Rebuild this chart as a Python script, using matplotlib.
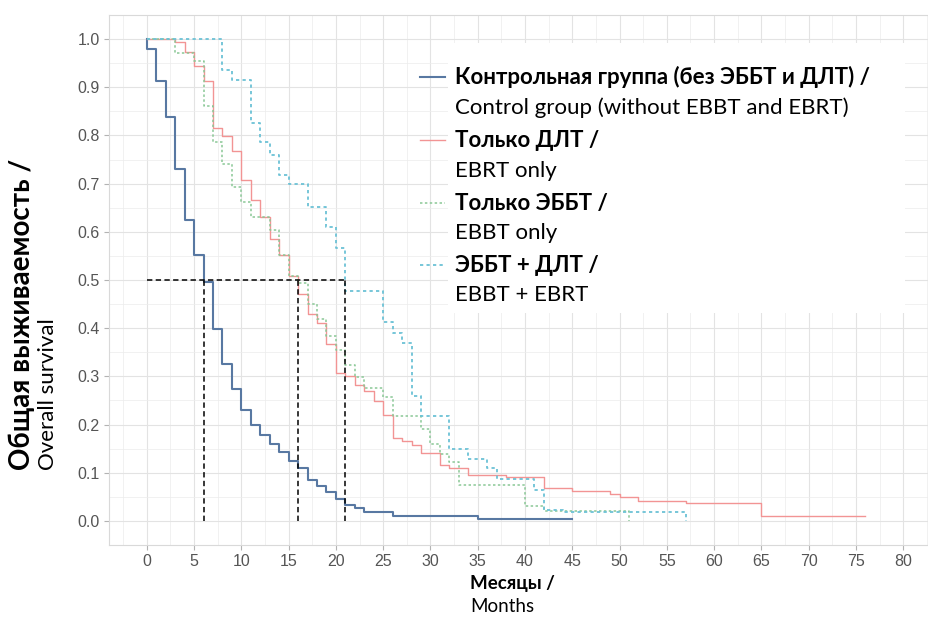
import matplotlib
matplotlib.use("Agg")
import matplotlib.pyplot as plt
from matplotlib.patches import Rectangle
from matplotlib.ticker import MultipleLocator

# Kaplan-Meier estimates: event times (months) and survival after each step
control_t = [0, 0, 1, 2, 3, 4, 5, 6, 7, 8, 9, 10, 11, 12, 13, 14, 15, 16, 17, 18,
             19, 20, 21, 22, 23, 26, 35, 45]
control_s = [1.0, 0.98, 0.912, 0.839, 0.730, 0.624, 0.551, 0.496, 0.398, 0.326, 0.274,
             0.230, 0.200, 0.178, 0.160, 0.142, 0.124, 0.110, 0.084, 0.073, 0.061,
             0.045, 0.033, 0.026, 0.018, 0.011, 0.004, 0.004]

ebrt_t = [0, 3, 4, 5, 6, 7, 8, 9, 10, 11, 12, 13, 14, 15, 16, 17, 18, 19, 20, 21,
          22, 23, 24, 25, 26, 27, 28, 29, 31, 32, 34, 38, 42, 45, 49, 50, 52, 57, 65, 76]
ebrt_s = [1.0, 0.993, 0.974, 0.944, 0.913, 0.816, 0.798, 0.768, 0.707, 0.667, 0.630,
          0.585, 0.552, 0.509, 0.470, 0.430, 0.410, 0.368, 0.307, 0.300, 0.282, 0.269,
          0.249, 0.219, 0.172, 0.165, 0.158, 0.141, 0.117, 0.109, 0.096, 0.091, 0.068,
          0.062, 0.056, 0.049, 0.042, 0.037, 0.011, 0.011]

ebbt_t = [0, 3, 5, 6, 7, 8, 9, 10, 11, 13, 14, 15, 16, 17, 18, 19, 20, 21, 22, 23,
          25, 26, 29, 30, 31, 32, 33, 40, 42, 51]
ebbt_s = [1.0, 0.972, 0.955, 0.862, 0.787, 0.740, 0.693, 0.662, 0.631, 0.603, 0.552,
          0.508, 0.494, 0.450, 0.419, 0.384, 0.355, 0.323, 0.298, 0.276, 0.257, 0.217,
          0.190, 0.160, 0.138, 0.122, 0.075, 0.030, 0.021, 0.0]

combo_t = [0, 8, 9, 11, 12, 13, 14, 15, 17, 19, 20, 21, 25, 26, 27, 28, 29, 32, 34,
           36, 37, 41, 42, 44, 57]
combo_s = [1.0, 0.936, 0.915, 0.826, 0.787, 0.760, 0.717, 0.700, 0.651, 0.609, 0.566,
           0.478, 0.413, 0.391, 0.369, 0.259, 0.218, 0.150, 0.129, 0.110, 0.088, 0.065,
           0.023, 0.018, 0.0]

median_months = [6, 16, 21]

group_ru = ["Контрольная группа (без ЭББТ и ДЛТ) /", "Только ДЛТ /",
            "Только ЭББТ /", "ЭББТ + ДЛТ /"]
group_en = ["Control group (without EBBT and EBRT)", "EBRT only",
            "EBBT only", "EBBT + EBRT"]

x_ticks = list(range(0, 81, 5))
y_ticks = [round(0.1 * i, 1) for i in range(11)]

styles = [
    dict(color="#5878a2", lw=1.5, ls="-"),
    dict(color="#f29494", lw=1.0, ls="-"),
    dict(color="#8ac896", lw=1.1, ls=(0, (1.6, 1.6))),
    dict(color="#6cc2d6", lw=1.3, ls=(0, (1.8, 1.8))),
]

label_font = ["Lato", "Noto Sans", "DejaVu Sans"]
tick_font = ["Liberation Sans Narrow", "Liberation Sans", "DejaVu Sans"]

fig = plt.figure(figsize=(9.29, 6.23), dpi=100)
ax = fig.add_axes([109 / 929, 78 / 623, 832 / 929, 530 / 623])
ax.set_xlim(-4, 84)
ax.set_ylim(-0.05, 1.05)

# light theme: grey border, major + minor grid
ax.set_axisbelow(True)
ax.xaxis.set_major_locator(MultipleLocator(5))
ax.xaxis.set_minor_locator(MultipleLocator(2.5))
ax.yaxis.set_major_locator(MultipleLocator(0.1))
ax.yaxis.set_minor_locator(MultipleLocator(0.05))
ax.grid(which="major", color="#e3e3e3", lw=0.8)
ax.grid(which="minor", color="#ececec", lw=0.5)
for sp in ax.spines.values():
    sp.set_color("#d9d9d9")
    sp.set_linewidth(0.8)
ax.tick_params(which="minor", length=0)
ax.tick_params(which="major", length=3.5, width=0.8, color="#b3b3b3",
               labelcolor="#555555", labelsize=11.5, pad=3)
ax.set_xticks(x_ticks)
ax.set_yticks(y_ticks)
ax.set_yticklabels([f"{v:.1f}" for v in y_ticks])
for lab in ax.get_xticklabels() + ax.get_yticklabels():
    lab.set_family(tick_font)

# survival curves
series = [(control_t, control_s), (ebrt_t, ebrt_s), (ebbt_t, ebbt_s), (combo_t, combo_s)]
for (t, s), st in zip(series, styles):
    ax.step(t, s, where="post", zorder=3, **st)

# median survival guides
ax.plot([0, max(median_months)], [0.5, 0.5], color="black", lw=1.1,
        ls=(0, (3.5, 2.2)), zorder=4)
for m in median_months:
    ax.plot([m, m], [0, 0.5], color="black", lw=1.1, ls=(0, (3.5, 2.2)), zorder=4)

# legend
ax.add_patch(Rectangle((0.407, 0.438), 0.55, 0.509, transform=ax.transAxes,
                       facecolor="white", edgecolor="none", zorder=1))
key_y = [0.883, 0.764, 0.645, 0.528]
sub_y = [0.8245, 0.706, 0.589, 0.472]
for st, ky, sy, ru, en in zip(styles, key_y, sub_y, group_ru, group_en):
    ax.plot([0.374, 0.404], [ky, ky], transform=ax.transAxes, zorder=3, **st)
    ax.text(0.416, ky, ru, transform=ax.transAxes, ha="left", va="center",
            fontsize=16, fontweight="bold", family=label_font, zorder=5)
    ax.text(0.416, sy, en, transform=ax.transAxes, ha="left", va="center",
            fontsize=16, family=label_font, zorder=5)

# axis titles
fig.text(470 / 929, 1 - 583 / 623, "Месяцы /", ha="left", va="center",
         fontsize=13.5, fontweight="bold", family=label_font)
fig.text(470 / 929, 1 - 607 / 623, "Months", ha="left", va="center",
         fontsize=13.5, family=label_font)
fig.text(22 / 929, 1 - 470 / 623, "Общая выживаемость /", rotation=90,
         ha="center", va="bottom", fontsize=20, fontweight="bold", family=label_font)
fig.text(48 / 929, 1 - 470 / 623, "Overall survival", rotation=90,
         ha="center", va="bottom", fontsize=16, family=label_font)

fig.savefig("out.png", dpi=100)
